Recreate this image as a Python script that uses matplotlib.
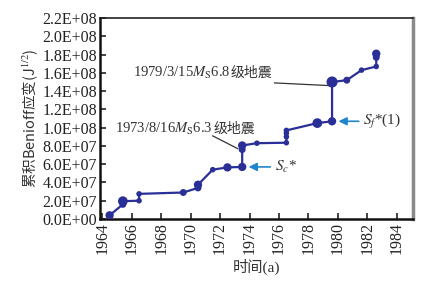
import matplotlib
matplotlib.use("Agg")
import matplotlib.pyplot as plt
import numpy as np
from matplotlib.ticker import FuncFormatter

plt.rcParams["font.family"] = ["Liberation Serif", "Noto Sans CJK SC"]
plt.rcParams["mathtext.fontset"] = "stix"

# cumulative Benioff strain, same-year points give the vertical steps
years = [1964.5, 1965.4, 1965.4, 1966.5, 1966.5, 1969.5, 1970.5, 1970.5,
         1971.5, 1972.5, 1973.5, 1973.5, 1973.5, 1974.5, 1976.5, 1976.5,
         1976.5, 1976.5, 1978.6, 1979.6, 1979.6, 1980.6, 1981.6, 1982.6,
         1982.6, 1982.6]
strain = [0.4e7, 1.6e7, 1.95e7, 2.0e7, 2.75e7, 2.9e7, 3.4e7, 3.75e7,
          5.4e7, 5.65e7, 5.7e7, 7.6e7, 8.05e7, 8.3e7, 8.35e7, 9.0e7,
          9.4e7, 9.7e7, 10.5e7, 10.7e7, 15.0e7, 15.2e7, 16.3e7, 16.7e7,
          17.7e7, 18.1e7]
marker_size = [6, 5, 7, 4, 4, 5, 5, 6, 4, 6, 6, 5, 6, 4, 4, 4, 4, 4,
               7, 6, 8, 5, 4, 4, 5, 6]

xticks = np.arange(1964, 1985, 2)
yticks = np.arange(0, 2.21e8, 2e7)

line_color = "#2a2f98"
arrow_color = "#1f86cc"
text_color = "#333333"
cjk = "Noto Sans CJK SC"

fig = plt.figure(figsize=(4.33, 2.87), dpi=100)
ax = fig.add_axes([0.231, 0.237, 0.723, 0.70])

ax.plot(years, strain, color=line_color, lw=1.6, zorder=2)
ax.scatter(years, strain, s=np.array(marker_size) ** 2, color=line_color,
           zorder=3, linewidths=0)

ax.set_xlim(1963.85, 1985.1)
ax.set_ylim(0, 2.2e8)
ax.set_xticks(xticks)
ax.set_yticks(yticks)
ax.set_xticklabels([str(y) for y in xticks], rotation=90)
ax.yaxis.set_major_formatter(FuncFormatter(lambda v, p: "%.1E" % v))
ax.tick_params(direction="in", length=4, width=1.2, labelsize=11.5,
               colors="#222222", pad=2)

for side in ["left", "bottom"]:
    ax.spines[side].set_linewidth(1.8)
    ax.spines[side].set_color("#111111")
ax.spines["top"].set_linewidth(1.2)
ax.spines["top"].set_color("#222222")
ax.spines["right"].set_linewidth(2.5)
ax.spines["right"].set_color("#8a8a8a")

ax.set_xlabel("时间(a)", fontsize=11, labelpad=4, color=text_color)
ax.set_ylabel("累积Benioff应变(J$^{1/2}$)", fontsize=10.5, labelpad=2,
              color=text_color, family=cjk)

# earthquake labels with leader lines (CJK part as its own text)
t1 = ax.text(1966.1, 1.6e8, "1979/3/15$M_{\\rm S}$6.8", fontsize=10.5,
             va="center", ha="left", color=text_color)
ax.annotate("级地震", xy=(1, 0.5), xycoords=t1, va="center", ha="left",
            fontsize=10, color=text_color, family=cjk)
ax.plot([1975.7, 1979.5], [1.49e8, 1.46e8], color=text_color, lw=0.9)

t2 = ax.text(1964.9, 0.99e8, "1973/8/16$M_{\\rm S}$6.3", fontsize=10.5,
             va="center", ha="left", color=text_color)
ax.annotate("级地震", xy=(1, 0.5), xycoords=t2, va="center", ha="left",
            fontsize=10, color=text_color, family=cjk)
ax.plot([1971.5, 1973.2], [0.91e8, 0.77e8], color=text_color, lw=0.9)

# S_c* and S_f*(1) arrows
ax.annotate("", xy=(1973.75, 5.7e7), xytext=(1975.6, 5.7e7),
            arrowprops=dict(arrowstyle="-|>", color=arrow_color, lw=1.2,
                            mutation_scale=12))
ax.text(1975.7, 5.7e7, "$S_c$*", fontsize=11, va="center", ha="left",
        color=text_color)
ax.annotate("", xy=(1979.85, 1.07e8), xytext=(1981.6, 1.07e8),
            arrowprops=dict(arrowstyle="-|>", color=arrow_color, lw=1.2,
                            mutation_scale=12))
ax.text(1981.7, 1.07e8, "$S_f$*(1)", fontsize=11, va="center", ha="left",
        color=text_color)

fig.savefig("out.png", dpi=100)
